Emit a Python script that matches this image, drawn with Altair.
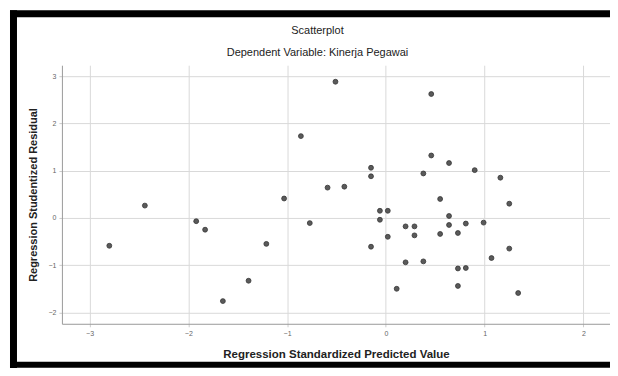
import altair as alt
import pandas as pd

# Regression Standardized Predicted Value (x) and Studentized Residual (y)
pred = [-0.51, -0.86, -0.59, -1.03, -2.44, -0.77, -1.92, -1.83, -2.80, -1.21,
        -1.39, -1.65, 0.46, 0.46, 0.64, -0.15, -0.15, 0.38, 0.90, 1.16,
        -0.42, 0.55, 1.25, -0.06, 0.02, -0.06, 0.64, 0.64, 0.81, 0.99,
        0.20, 0.29, 0.29, 0.55, 0.73, 0.02, -0.15, 1.25, 1.07, 0.20,
        0.38, 0.73, 0.81, 0.73, 0.11, 1.34]
resid = [2.88, 1.73, 0.64, 0.41, 0.26, -0.11, -0.07, -0.25, -0.59, -0.55,
         -1.33, -1.76, 2.62, 1.32, 1.16, 1.06, 0.88, 0.94, 1.01, 0.85,
         0.66, 0.40, 0.30, 0.15, 0.15, -0.04, 0.04, -0.15, -0.12, -0.10,
         -0.18, -0.18, -0.37, -0.34, -0.32, -0.40, -0.61, -0.65, -0.85, -0.94,
         -0.92, -1.07, -1.06, -1.44, -1.50, -1.59]
x_ticks = [-3, -2, -1, 0, 1, 2]
y_ticks = [-2, -1, 0, 1, 2, 3]
title_lines = ["Scatterplot", "Dependent Variable: Kinerja Pegawai"]

df = pd.DataFrame({"pred": pred, "resid": resid})
one = pd.DataFrame({"a": [0]})

points = alt.Chart(df).mark_point(
    shape="circle", filled=True, size=24, color="#5a5a5a",
    stroke="#333333", strokeWidth=0.8, opacity=1
).encode(
    x=alt.X("pred:Q", scale=alt.Scale(domain=[-3.28, 2.27], nice=False, zero=False),
            axis=alt.Axis(values=x_ticks, title="Regression Standardized Predicted Value",
                          titlePadding=12, titleFontSize=11.5)),
    y=alt.Y("resid:Q", scale=alt.Scale(domain=[-2.24, 3.23], nice=False, zero=False),
            axis=alt.Axis(values=y_ticks, title="Regression Studentized Residual",
                          titlePadding=9, titleFontSize=11)),
)

# black outer frame (left, top, bottom edges)
left_edge = alt.Chart(one).mark_rule(color="black", strokeWidth=7).encode(
    x=alt.value(-48.5), y=alt.value(-55), y2=alt.value(320))
top_edge = alt.Chart(one).mark_rule(color="black", strokeWidth=7).encode(
    x=alt.value(-52), x2=alt.value(560), y=alt.value(-51.5))
bottom_edge = alt.Chart(one).mark_rule(color="black", strokeWidth=6).encode(
    x=alt.value(-52), x2=alt.value(560), y=alt.value(300))

title1 = alt.Chart(pd.DataFrame({"t": [title_lines[0]]})).mark_text(
    font="Liberation Sans", fontSize=11, color="#222222", baseline="middle", align="center"
).encode(text="t:N", x=alt.value(256), y=alt.value(-34))

title2 = alt.Chart(pd.DataFrame({"t": [title_lines[1]]})).mark_text(
    font="Liberation Sans", fontSize=11, color="#222222", baseline="middle", align="center"
).encode(text="t:N", x=alt.value(256), y=alt.value(-12))

chart = alt.layer(left_edge, top_edge, bottom_edge, points, title1, title2).properties(
    width=549, height=259,
    autosize=alt.AutoSizeParams(type="none"),
    padding={"left": 54, "top": 57, "right": 0, "bottom": 44},
).configure_view(stroke=None).configure_axis(
    labelFont="Liberation Sans", titleFont="Liberation Sans",
    labelFontSize=7, labelColor="#666666", titleFontWeight="bold",
    titleColor="#222222", gridColor="#d9d9d9", gridWidth=1,
    domainColor="#9a9a9a", tickColor="#cccccc", tickSize=3, labelPadding=3,
)

chart.save("out.html", embed_options={"renderer": "svg", "actions": False})
